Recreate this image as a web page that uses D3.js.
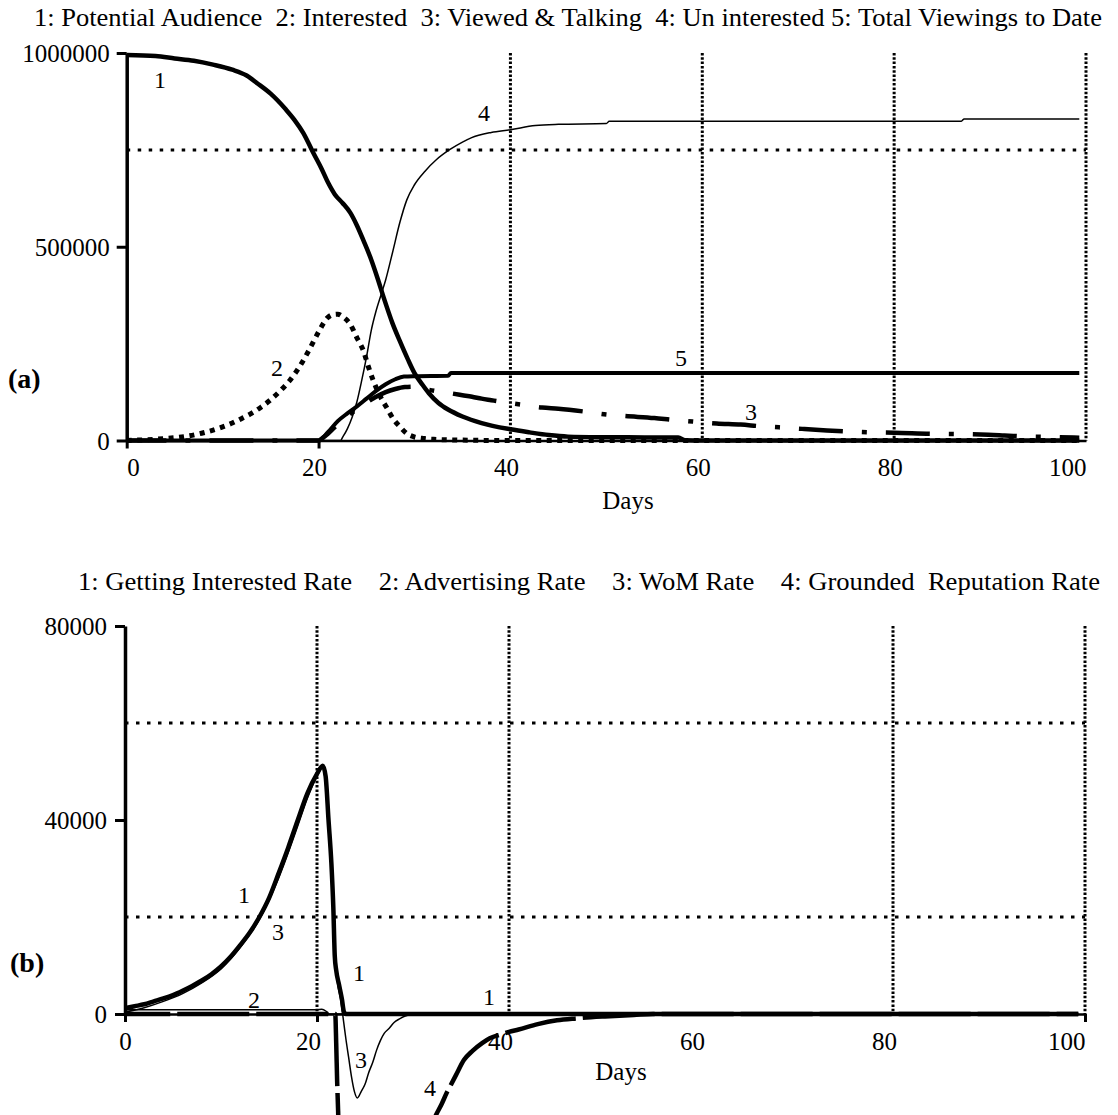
<!DOCTYPE html>
<html>
<head>
<meta charset="utf-8">
<script src="https://cdn.jsdelivr.net/npm/d3@7"></script>
<style>
  html, body { margin: 0; padding: 0; background: #fff; overflow: hidden; }
  text { font-family: "Liberation Serif", "Times New Roman", serif; fill: #000; }
</style>
</head>
<body>
<script>
// ---------------- DATA ----------------
const topTitle = "1: Potential Audience  2: Interested  3: Viewed & Talking  4: Un interested 5: Total Viewings to Date";
const bottomTitle = "1: Getting Interested Rate    2: Advertising Rate    3: WoM Rate    4: Grounded  Reputation Rate";
const xTickValues = [0, 20, 40, 60, 80, 100];
const topYTicks = [0, 500000, 1000000];
const bottomYTicks = [0, 40000, 80000];
const xAxisLabel = "Days";

// Panel (a) series: [day, value]
const potentialAudience = [[0,995000],[3,992000],[5,986000],[7,980000],[9,970000],[11,957000],[12.5,942000],[13.6,922000],[15,895000],[16.6,854000],[17.5,827000],[18.4,794000],[19.5,740000],[20.3,702000],[21,665000],[21.7,635000],[22.5,613000],[23.3,588000],[24,555000],[24.7,515000],[25.5,466000],[26.2,415000],[26.8,368000],[27.7,303000],[28.5,255000],[29.3,210000],[30,174000],[30.8,145000],[31.5,122000],[32.5,97000],[33.5,80000],[35,62000],[37,45000],[40,29000],[42,21000],[44,14000],[46,10000],[50,8500],[54,8000],[57.5,7500],[58.2,500],[60,0],[99.3,0]];
const interested = [[0,0],[2,2000],[4,5000],[6,10000],[8,20000],[10,35000],[11,45000],[12,57000],[13,70000],[14,86000],[15,105000],[16,128000],[17,155000],[18,190000],[19,233000],[20,280000],[20.9,316000],[21.5,325000],[22,326000],[22.6,318000],[23.3,300000],[24,265000],[24.7,230000],[25.2,190000],[25.7,155000],[26.4,115000],[27.1,85000],[27.8,55000],[28.5,35000],[29.2,18000],[30,9000],[31,5000],[32,3000],[35,1000],[40,0],[99.3,0]];
const viewedTalking = [[0,0],[20,0],[20.5,8000],[21,18000],[22,42000],[23,63000],[24,81000],[25,98000],[26,113000],[27,125000],[28,133000],[29,138000],[30,139000],[30.6,137000],[31.5,131000],[32.6,126000],[34,121000],[35,117000],[36,113000],[37,108000],[38,104000],[39,100000],[41.3,92000],[43.3,85000],[45,82000],[47.6,75000],[50,67000],[52,63000],[55,58000],[57,53000],[59,49000],[61.5,44000],[64,41000],[66,37000],[68,34000],[70.4,30000],[73,26000],[75,23500],[77.4,21000],[80,20000],[84,17000],[86.7,16500],[89,15500],[91.5,13000],[93.7,10500],[96,9500],[99.3,7000]];
const uninterested = [[0,0],[22.3,0],[22.5,8000],[23,30000],[23.5,60000],[24,100000],[24.5,155000],[25,216000],[25.5,285000],[26,335000],[26.5,375000],[27,415000],[27.7,484000],[28.5,565000],[29.2,621000],[30,660000],[31.1,695000],[32.3,725000],[33.7,751000],[35,770000],[35.9,781000],[38,795000],[40,802000],[42.6,813000],[45,816000],[50,818000],[50.3,824000],[87,824000],[87.3,830000],[99.3,830000]];
const totalViewings = [[0,0],[20,0],[21,22000],[22,50000],[23,70000],[24,88000],[25,108000],[26,128000],[27,145000],[28,158000],[28.9,165000],[30,166000],[33.5,167000],[33.8,174000],[99.3,174000]];

// Panel (b) series: [day, value]
const gettingInterestedRate = [[0,1200],[1,1600],[2,2000],[3,2600],[4,3200],[5,3900],[6,4800],[7,5800],[8,6900],[9,8200],[10,9800],[11,11800],[12,14200],[13,16800],[14,20000],[15,23900],[16,29000],[17,34300],[18,40000],[19,45500],[20,49500],[20.6,51200],[20.9,49000],[21.2,40000],[21.5,31000],[21.7,22000],[21.85,12000],[22,9000],[22.3,6000],[22.6,3000],[22.8,500],[23,0],[99.3,0]];
const advertisingRate = [[0,900],[20,900],[20.5,1000],[21,500],[21.3,0],[99.3,0]];
const womRate = [[0,400],[2,1300],[4,2600],[6,4200],[8,6400],[10,9300],[12,13700],[14,19500],[16,28000],[18,38800],[19,44500],[20,49000],[20.6,50800],[21.2,39000],[21.6,25000],[22,9000],[22.5,2500],[22.8,-2000],[23,-5000],[23.3,-9000],[23.6,-13000],[23.9,-16000],[24.2,-17300],[24.6,-16000],[25,-14500],[25.4,-12000],[25.8,-10000],[26.2,-7500],[26.6,-5500],[27,-4000],[27.5,-3000],[28,-1800],[28.6,-1000],[29.2,-400],[30,-100],[31,0],[99.3,0]];
const groundedReputationRate = [[0,0],[21.9,0],[22,-6000],[22.1,-14000],[22.2,-20000],[22.3,-28000],[22.5,-40000],[23,-55000],[24,-62000],[26,-55000],[28,-45000],[30,-33000],[31.5,-25000],[32.4,-20800],[33,-18500],[33.5,-16300],[34,-14400],[34.5,-12500],[35.3,-9500],[36.2,-7600],[37.2,-6000],[38,-5000],[39,-4300],[40,-3700],[41,-3200],[43,-2100],[45,-1300],[47,-900],[50,-500],[53,-200],[55,0],[99.3,0]];

// ---------------- DRAWING ----------------
const W = 1118, H = 1115;
const svg = d3.select("body").append("svg").attr("width", W).attr("height", H);

const xTop = d3.scaleLinear().domain([0, 100]).range([126.7, 1086]);
const yTop = d3.scaleLinear().domain([0, 1000000]).range([440.5, 53]);
const xBot = d3.scaleLinear().domain([0, 100]).range([125, 1085]);
const yBot = d3.scaleLinear().domain([0, 80000]).range([1014, 626]);

function grid(g, x, y, vx, hy, yMin, yMax) {
  vx.forEach(v => g.append("line")
    .attr("x1", x(v)).attr("x2", x(v)).attr("y1", y(yMax)).attr("y2", y(yMin))
    .attr("stroke", "#000").attr("stroke-width", 3).attr("stroke-dasharray", "2.5,1.8"));
  hy.forEach(v => g.append("line")
    .attr("x1", x(0)).attr("x2", x(100)).attr("y1", y(v)).attr("y2", y(v))
    .attr("stroke", "#000").attr("stroke-width", 3).attr("stroke-dasharray", "3.5,7.5"));
}

function axes(g, x, y, yTicks, tickMarksX, dxMid, labelY, yLabelX, zeroAnchor) {
  const ax = g.append("g").attr("transform", `translate(0,${y(0)})`)
    .call(d3.axisBottom(x).tickValues(xTickValues).tickSize(8).tickSizeOuter(0).tickFormat(d => d));
  ax.select(".domain").attr("stroke-width", 2.5);
  ax.selectAll(".tick line").attr("stroke-width", 3)
    .attr("opacity", d => tickMarksX.includes(d) ? 1 : 0);
  ax.selectAll(".tick text")
    .attr("y", labelY).attr("dy", 0)
    .attr("font-size", 25)
    .attr("text-anchor", d => d === 0 ? zeroAnchor : (d === 100 ? "end" : "middle"))
    .attr("dx", d => (d === 0 || d === 100) ? 0 : dxMid);
  const ay = g.append("g").attr("transform", `translate(${x(0)},0)`)
    .call(d3.axisLeft(y).tickValues(yTicks).tickSize(10).tickSizeOuter(0).tickFormat(d => d));
  ay.select(".domain").attr("stroke-width", 3.5);
  ay.selectAll(".tick line").attr("stroke-width", 3);
  ay.selectAll(".tick text").attr("x", yLabelX).attr("dy", "0.35em").attr("font-size", 25);
  g.selectAll(".domain, .tick line").attr("stroke", "#000");
  g.selectAll(".tick text").attr("fill", "#000").attr("font-family", '"Liberation Serif", "Times New Roman", serif');
}

function lineGen(x, y) {
  return d3.line().x(d => x(d[0])).y(d => y(d[1])).curve(d3.curveMonotoneX);
}

function series(g, x, y, data, opts) {
  const p = g.append("path").attr("d", lineGen(x, y)(data))
    .attr("fill", "none").attr("stroke", "#000")
    .attr("stroke-width", opts.w)
    .attr("stroke-linejoin", "round");
  if (opts.dash) p.attr("stroke-dasharray", opts.dash);
  if (opts.cap) p.attr("stroke-linecap", opts.cap);
  if (opts.phaseAt !== undefined) {
    // start a dash at the given day, as in the original plot
    const tmp = g.append("path").attr("d", lineGen(x, y)(data.filter(d => d[0] <= opts.phaseAt)));
    const L0 = tmp.node().getTotalLength();
    tmp.remove();
    p.attr("stroke-dashoffset", (opts.period - (L0 % opts.period)) % opts.period);
  }
  return p;
}

function label(g, x, y, t, size, bold) {
  g.append("text").attr("x", x).attr("y", y).attr("font-size", size)
    .attr("font-weight", bold ? "bold" : "normal").text(t);
}

// ---- Panel (a)
const gA = svg.append("g");
grid(gA, xTop, yTop, [40, 60, 80, 100], [750000], 0, 1000000);
axes(gA, xTop, yTop, topYTicks, [0, 20], -4.5, 35, -17, "start");

series(gA, xTop, yTop, interested, { w: 5, dash: "5,5.5" });
series(gA, xTop, yTop, viewedTalking, { w: 4.5, dash: "44,19,5,19", period: 87, phaseAt: 34.8 });
series(gA, xTop, yTop, uninterested, { w: 1.5 });
series(gA, xTop, yTop, totalViewings, { w: 4 });
series(gA, xTop, yTop, potentialAudience, { w: 4.5 });

gA.append("text").attr("x", 34).attr("y", 26).attr("font-size", 25)
  .attr("xml:space", "preserve").style("white-space", "pre")
  .attr("textLength", 1068).attr("lengthAdjust", "spacingAndGlyphs").text(topTitle);
gA.append("text").attr("x", 628).attr("y", 509).attr("font-size", 25)
  .attr("text-anchor", "middle").text(xAxisLabel);
label(gA, 8, 388, "(a)", 28, true);
label(gA, 154, 88, "1", 24);
label(gA, 478, 121, "4", 24);
label(gA, 271, 376, "2", 24);
label(gA, 675, 366, "5", 24);
label(gA, 745, 420, "3", 24);

// ---- Panel (b)
const gB = svg.append("g");
grid(gB, xBot, yBot, [20, 40, 80, 100], [20000, 60000], 0, 80000);
axes(gB, xBot, yBot, bottomYTicks, [0, 20, 100], -9, 36, -18, "middle");

series(gB, xBot, yBot, advertisingRate, { w: 1.5 });
series(gB, xBot, yBot, groundedReputationRate, { w: 4.5, dash: "72,7", period: 79, phaseAt: 21.9 });
series(gB, xBot, yBot, womRate, { w: 1.5 });
series(gB, xBot, yBot, gettingInterestedRate, { w: 4.5 });

gB.append("text").attr("x", 78).attr("y", 590).attr("font-size", 25)
  .attr("xml:space", "preserve").style("white-space", "pre")
  .attr("textLength", 1022).attr("lengthAdjust", "spacingAndGlyphs").text(bottomTitle);
gB.append("text").attr("x", 621).attr("y", 1080).attr("font-size", 25)
  .attr("text-anchor", "middle").text(xAxisLabel);
label(gB, 10, 972, "(b)", 28, true);
label(gB, 238, 903, "1", 24);
label(gB, 272, 940, "3", 24);
label(gB, 248, 1008, "2", 24);
label(gB, 353, 981, "1", 24);
label(gB, 483, 1005, "1", 24);
label(gB, 355, 1068, "3", 24);
label(gB, 424, 1096, "4", 24);
</script>
</body>
</html>
